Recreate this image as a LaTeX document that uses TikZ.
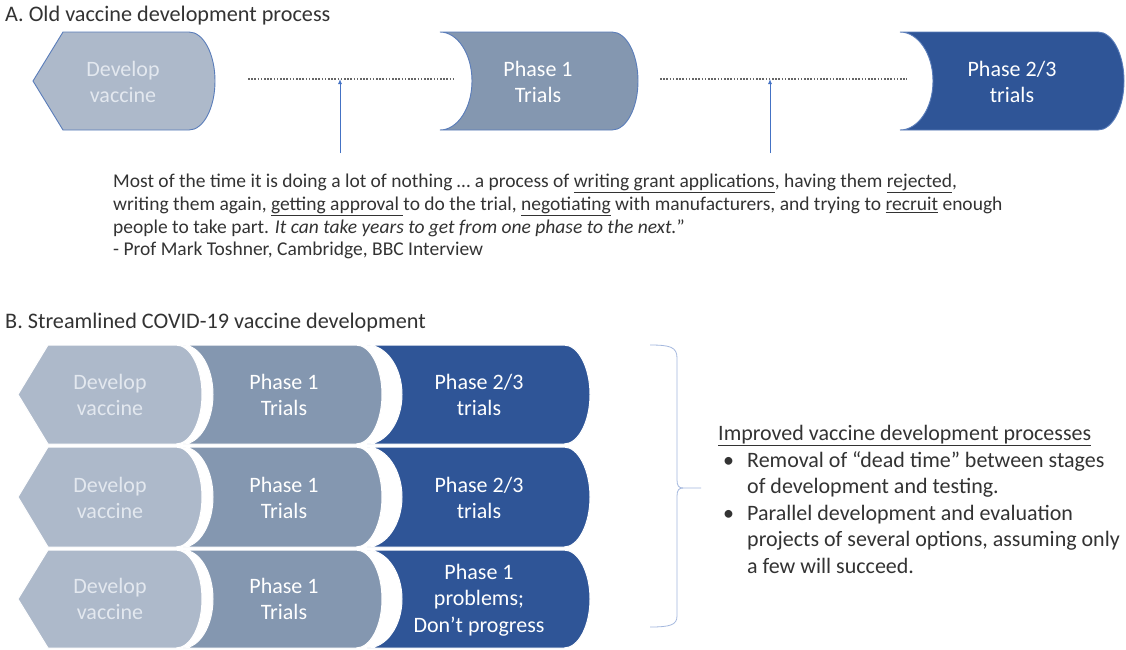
\documentclass[tikz,border=0pt]{standalone}
\usepackage{fontspec}
\setmainfont{Carlito}
\usetikzlibrary{arrows.meta}

\definecolor{devfill}{HTML}{ADB9CA}
\definecolor{phonefill}{HTML}{8497B0}
\definecolor{phtwofill}{HTML}{2F5597}
\definecolor{edgeblue}{HTML}{5A7DBA}
\definecolor{arrowblue}{HTML}{4472C4}
\definecolor{bracecol}{HTML}{A4B8DE}
\definecolor{inkgrey}{HTML}{333333}
\definecolor{devtext}{HTML}{E3E8EF}

% develop stage: pointed left end, round right end (left, right, top, bottom)
\newcommand{\devstage}[5]{%
  \filldraw[#1] (#2,{(#4+#5)/2}) -- (#2+30,#4) -- (#3-26,#4)
    .. controls (#3-11.6,#4) and (#3,{(#4+#5)/2-27}) .. (#3,{(#4+#5)/2})
    .. controls (#3,{(#4+#5)/2+27}) and (#3-11.6,#5) .. (#3-26,#5)
    -- (#2+30,#5) -- cycle;}
% trial stage: hollow left end, round right end (left, right, top, bottom, depth)
\newcommand{\trialstage}[6]{%
  \filldraw[#1] (#2,#4) -- (#3-26,#4)
    .. controls (#3-11.6,#4) and (#3,{(#4+#5)/2-27}) .. (#3,{(#4+#5)/2})
    .. controls (#3,{(#4+#5)/2+27}) and (#3-11.6,#5) .. (#3-26,#5)
    -- (#2,#5)
    .. controls (#2+0.55*#6,#5) and (#2+#6,{(#4+#5)/2+27}) .. (#2+#6,{(#4+#5)/2})
    .. controls (#2+#6,{(#4+#5)/2-27}) and (#2+0.55*#6,#4) .. (#2,#4) -- cycle;}

\tikzset{
  oldstage/.style={draw=edgeblue, line width=0.9pt},
  newstage/.style={draw=white, line width=1pt},
  label/.style={align=center, text=white, inner sep=0pt,
    font=\fontsize{22}{25.5}\selectfont},
  devlabel/.style={label, text=devtext},
  heading/.style={anchor=base west, inner sep=0pt, text=inkgrey,
    font=\fontsize{22.2}{25}\selectfont},
  deadtime/.style={dash pattern=on 1.6pt off 1.6pt, line width=2pt, inkgrey!75},
  waitarrow/.style={-{Latex[length=5pt,width=4pt]}, arrowblue, line width=1pt},
}

\begin{document}
\begin{tikzpicture}[x=1pt, y=-1pt]
  \useasboundingbox[fill=white] (0,0) rectangle (1126,649);

  % A. the old, sequential route
  \node[heading] (titleA) at (5,21) {A. Old vaccine development process};

  \devstage{oldstage, fill=devfill}{33}{215}{32}{130}
  \trialstage{oldstage, fill=phonefill}{440}{638}{32}{130}{32}
  \trialstage{oldstage, fill=phtwofill}{900}{1124}{32}{130}{33}
  \node[devlabel] (devA) at (123,82) {Develop\\vaccine};
  \node[label] (phoneA) at (538,82) {Phase 1\\Trials};
  \node[label] (phtwoA) at (1012,82) {Phase 2/3\\trials};

  \coordinate (gapAw) at (248,79);
  \coordinate (gapAe) at (455,79);
  \coordinate (gapBw) at (660,79);
  \coordinate (gapBe) at (907,79);
  \draw[deadtime] (gapAw) -- (gapAe);
  \draw[deadtime] (gapBw) -- (gapBe);

  \coordinate (waitA) at (340,153);
  \coordinate (waitB) at (770,153);
  \draw[waitarrow] (waitA) -- (waitA |- gapAw);
  \draw[waitarrow] (waitB) -- (waitB |- gapBw);

  \node[anchor=north west, align=left, inner sep=0pt, text=inkgrey,
    font=\fontsize{19.5}{22.7}\selectfont] (quote) at (113,174)
    {Most of the time it is doing a lot of nothing … a process of \underline{writing grant applications}, having them \underline{rejected},\\
     writing them again, \underline{getting approval }to do the trial, \underline{negotiating} with manufacturers, and trying to \underline{recruit} enough\\
     people to take part. \textit{It can take years to get from one phase to the next.}”\\
     - Prof Mark Toshner, Cambridge, BBC Interview};

  % B. all stages run back to back, several candidates at once
  \node[heading] (titleB) at (5,328) {B. Streamlined COVID-19 vaccine development};

  \devstage{newstage, fill=devfill}{18}{202}{345}{444}
  \trialstage{newstage, fill=phonefill}{183}{382}{345}{444}{30}
  \trialstage{newstage, fill=phtwofill}{367}{590}{345}{444}{35}
  \devstage{newstage, fill=devfill}{18}{202}{447}{547}
  \trialstage{newstage, fill=phonefill}{183}{382}{447}{547}{30}
  \trialstage{newstage, fill=phtwofill}{367}{590}{447}{547}{35}
  \devstage{newstage, fill=devfill}{18}{202}{550}{648}
  \trialstage{newstage, fill=phonefill}{183}{382}{550}{648}{30}
  \trialstage{newstage, fill=phtwofill}{367}{590}{550}{648}{35}

  \node[devlabel] (devB1) at (110,395) {Develop\\vaccine};
  \node[label] (phoneB1) at (284,395) {Phase 1\\Trials};
  \node[label] (phtwoB1) at (479,395) {Phase 2/3\\trials};
  \node[devlabel] (devB2) at (110,498) {Develop\\vaccine};
  \node[label] (phoneB2) at (284,498) {Phase 1\\Trials};
  \node[label] (phtwoB2) at (479,498) {Phase 2/3\\trials};
  \node[devlabel] (devB3) at (110,599) {Develop\\vaccine};
  \node[label] (phoneB3) at (284,599) {Phase 1\\Trials};
  \node[label, font=\fontsize{22}{26.5}\selectfont] (phtwoB3) at (479,600)
    {Phase 1\\problems;\\Don’t progress};

  % bracket round the three rows
  \draw[bracecol, line width=0.8pt] (650,345) .. controls (670,345) and (677,347) .. (677,358)
    -- (677,480) .. controls (677,486) and (679,488) .. (683,488) -- (701,488);
  \draw[bracecol, line width=0.8pt] (683,488) .. controls (679,488) and (677,490) .. (677,496)
    -- (677,616) .. controls (677,625) and (670,627) .. (650,627);

  \node[anchor=north west, align=left, inner sep=0pt, text=inkgrey,
    font=\fontsize{22}{26.6}\selectfont] (notes) at (718,425)
    {\underline{Improved vaccine development processes}\\
     \hspace*{5pt}\makebox[24pt][l]{•}Removal of “dead time” between stages\\
     \hspace*{29pt}of development and testing.\\
     \hspace*{5pt}\makebox[24pt][l]{•}Parallel development and evaluation\\
     \hspace*{29pt}projects of several options, assuming only\\
     \hspace*{29pt}a few will succeed.};
\end{tikzpicture}
\end{document}
